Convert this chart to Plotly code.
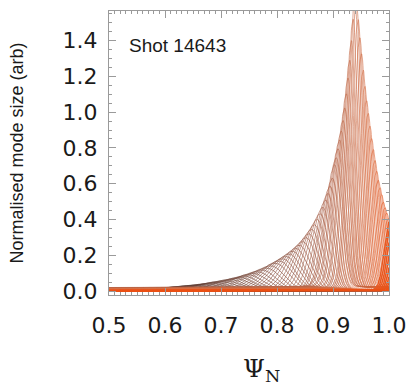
import numpy as np
import plotly.graph_objects as go

# Harmonic peak locations (psi_N), peak amplitudes, widths and low-level tails
peak_psi = [0.500, 0.509, 0.518, 0.527, 0.536, 0.545, 0.554, 0.563, 0.572, 0.581,
            0.590, 0.599, 0.608, 0.617, 0.626, 0.635, 0.644, 0.653, 0.662, 0.671,
            0.680, 0.689, 0.698, 0.707, 0.716, 0.725, 0.733, 0.741, 0.749, 0.757,
            0.765, 0.773, 0.781, 0.789, 0.797,
            0.804, 0.810, 0.816, 0.822, 0.828, 0.834, 0.840, 0.846, 0.852, 0.857,
            0.862, 0.867, 0.872, 0.877, 0.882, 0.887, 0.891, 0.895, 0.899,
            0.903, 0.906, 0.909, 0.912, 0.915, 0.918, 0.921, 0.924, 0.927, 0.930,
            0.933, 0.936, 0.939, 0.942, 0.945, 0.948, 0.951, 0.954, 0.957, 0.960,
            0.963, 0.966, 0.969, 0.972, 0.975, 0.978, 0.981, 0.984, 0.987, 0.990,
            0.993, 0.996, 0.999,
            1.002, 1.005, 1.008, 1.011, 1.014, 1.017, 1.020, 1.023, 1.026, 1.030]
peak_amp = [0.006, 0.007, 0.008, 0.009, 0.010, 0.011, 0.012, 0.013, 0.014, 0.015,
            0.017, 0.019, 0.021, 0.023, 0.025, 0.028, 0.031, 0.034, 0.037, 0.041,
            0.045, 0.049, 0.054, 0.059, 0.065, 0.071, 0.077, 0.084, 0.091, 0.099,
            0.108, 0.118, 0.129, 0.141, 0.155,
            0.168, 0.180, 0.193, 0.207, 0.222, 0.238, 0.256, 0.276, 0.298, 0.320,
            0.344, 0.370, 0.400, 0.432, 0.468, 0.508, 0.545, 0.585, 0.630,
            0.68, 0.72, 0.77, 0.82, 0.87, 0.93, 1.00, 1.08, 1.17, 1.27,
            1.38, 1.50, 1.62, 1.60, 1.50, 1.40, 1.31, 1.22, 1.13, 1.05,
            0.98, 0.91, 0.84, 0.78, 0.72, 0.66, 0.61, 0.57, 0.53, 0.49,
            0.46, 0.43, 0.40,
            0.39, 0.38, 0.37, 0.36, 0.35, 0.34, 0.33, 0.32, 0.31, 0.30]
peak_width = [0.046, 0.046, 0.046, 0.045, 0.045, 0.045, 0.044, 0.044, 0.044, 0.043,
              0.043, 0.043, 0.042, 0.042, 0.042, 0.041, 0.041, 0.041, 0.040, 0.040,
              0.040, 0.039, 0.039, 0.039, 0.038, 0.038, 0.038, 0.037, 0.037, 0.037,
              0.036, 0.036, 0.036, 0.035, 0.035,
              0.034, 0.033, 0.032, 0.031, 0.030, 0.029, 0.028, 0.027, 0.026, 0.025,
              0.024, 0.023, 0.022, 0.021, 0.020, 0.019, 0.018, 0.018, 0.017,
              0.016, 0.016, 0.015, 0.015, 0.014, 0.014, 0.013, 0.013, 0.012, 0.012,
              0.011, 0.011, 0.011, 0.011, 0.011, 0.011, 0.011, 0.011, 0.011, 0.011,
              0.011, 0.011, 0.011, 0.011, 0.011, 0.011, 0.011, 0.011, 0.011, 0.011,
              0.011, 0.011, 0.011,
              0.010, 0.010, 0.010, 0.010, 0.010, 0.010, 0.010, 0.010, 0.010, 0.010]
tail_amp = [0.0] * 54 + [
            0.026, 0.025, 0.025, 0.024, 0.024, 0.023, 0.023, 0.022, 0.021, 0.020,
            0.020, 0.019, 0.018, 0.018, 0.017, 0.016, 0.016, 0.015, 0.014, 0.014,
            0.013, 0.012, 0.012, 0.011, 0.010, 0.010, 0.009, 0.008, 0.008, 0.007,
            0.006, 0.006, 0.005,
            0.005, 0.004, 0.004, 0.003, 0.003, 0.002, 0.002, 0.001, 0.001, 0.0]
color_stops = [(0.0, (45, 35, 35)), (0.45, (150, 85, 65)), (0.75, (215, 115, 75)),
               (0.9, (232, 90, 35)), (1.0, (235, 80, 20))]

x_ticks = [0.5, 0.6, 0.7, 0.8, 0.9, 1.0]
x_ticktext = ["0.5", "0.6", "0.7", "0.8", "0.9", "1.0"]
y_ticks = [0.0, 0.2, 0.4, 0.6, 0.8, 1.0, 1.2, 1.4]
y_ticktext = ["0.0", "0.2", "0.4", "0.6", "0.8", "1.0", "1.2", "1.4"]

psi = np.linspace(0.5, 1.0, 700)


def colour(t):
    for (t0, c0), (t1, c1) in zip(color_stops[:-1], color_stops[1:]):
        if t <= t1:
            f = (t - t0) / (t1 - t0)
            c = [round(a + (b - a) * f) for a, b in zip(c0, c1)]
            return f"rgb({c[0]},{c[1]},{c[2]})"
    c = color_stops[-1][1]
    return f"rgb({c[0]},{c[1]},{c[2]})"


fig = go.Figure()
n = len(peak_psi)
for k, (p, a, w, t) in enumerate(zip(peak_psi, peak_amp, peak_width, tail_amp)):
    sig = np.where(psi < p, w * 1.4, w)
    y = a * np.exp(-((psi - p) / sig) ** 2) + t * np.exp(-np.abs(psi - p) / 1.5)
    lw = 1.5 if p > 1.0 else 0.6
    fig.add_trace(go.Scatter(x=psi, y=y, mode="lines",
                             line=dict(color=colour(k / (n - 1)), width=lw),
                             showlegend=False, hoverinfo="skip"))

axis_common = dict(showline=True, linecolor="#9a9a9a", linewidth=1, mirror="ticks",
                   ticks="inside", ticklen=7, tickcolor="#9a9a9a", tickwidth=1,
                   showgrid=False, zeroline=False,
                   tickfont=dict(family="DejaVu Sans", size=22, color="#1a1a1a"))

fig.update_layout(
    width=417, height=389, autosize=False,
    margin=dict(l=109, r=20, t=10, b=94),
    plot_bgcolor="white", paper_bgcolor="white",
    xaxis=dict(range=[0.5, 1.0], tickvals=x_ticks, ticktext=x_ticktext,
               minor=dict(ticks="inside", ticklen=3, dtick=0.01, tickcolor="#9a9a9a"),
               ticklabelstandoff=11,
               **axis_common),
    yaxis=dict(range=[-0.022, 1.565], tickvals=y_ticks, ticktext=y_ticktext,
               minor=dict(ticks="inside", ticklen=3, dtick=0.05, tickcolor="#9a9a9a"),
               ticklabelstandoff=6,
               title=dict(text="Normalised mode size (arb)",
                          font=dict(family="Liberation Sans", size=18, color="#1a1a1a"),
                          standoff=34),
               **axis_common),
    annotations=[
        dict(text="Shot 14643", x=0.065, y=0.877, xref="paper", yref="paper",
             xanchor="left", yanchor="middle", showarrow=False,
             font=dict(family="Liberation Sans", size=19, color="#1a1a1a")),
        dict(text="Ψ<sub>N</sub>", x=0.545, y=-0.265, xref="paper", yref="paper",
             xanchor="center", yanchor="middle", showarrow=False,
             font=dict(family="DejaVu Serif", size=25, color="#1a1a1a")),
    ],
)

fig.write_html("out.html")
